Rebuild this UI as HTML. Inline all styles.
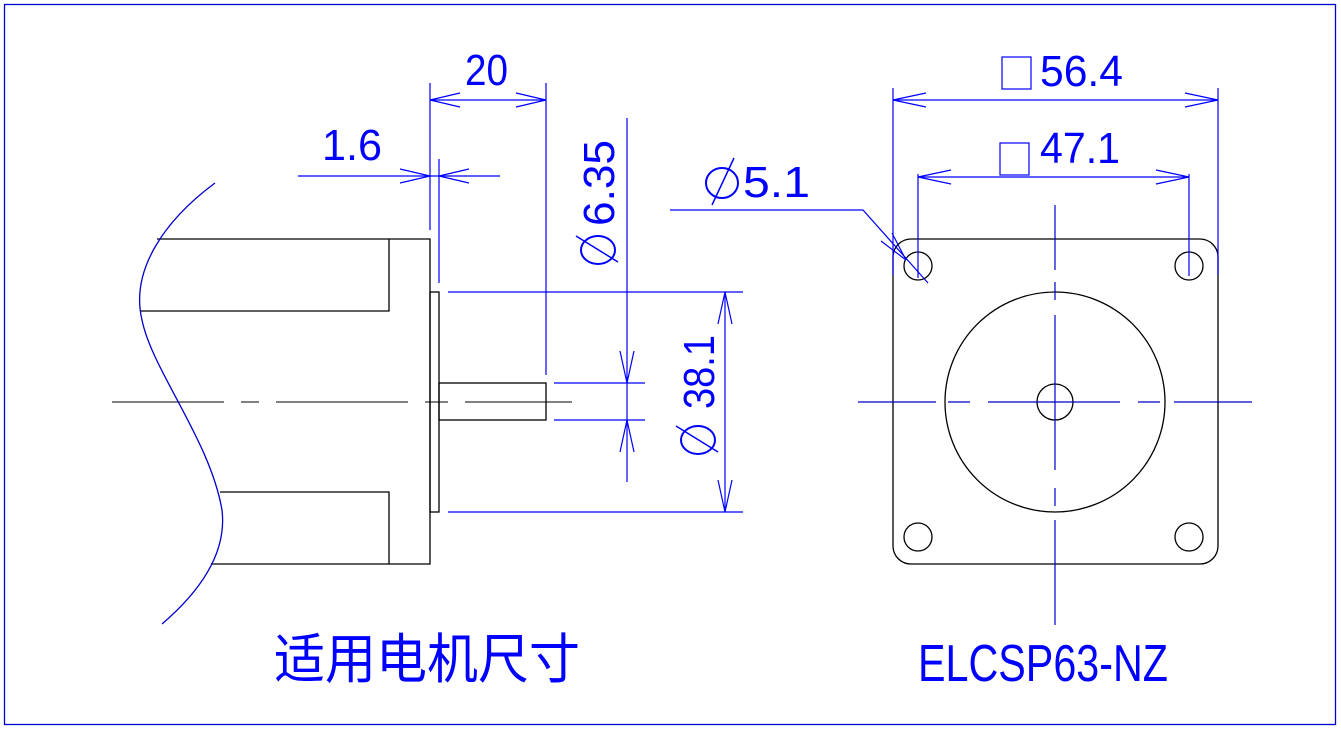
<!DOCTYPE html>
<html><head><meta charset="utf-8"><style>
html,body{margin:0;padding:0;background:#fff;}
svg{display:block;}
text{fill:#0000ff;font-family:"Liberation Sans","Noto Sans CJK SC",sans-serif;}
</style></head><body>
<svg width="1341" height="730" viewBox="0 0 1341 730" xmlns="http://www.w3.org/2000/svg">
<rect x="4.5" y="4.5" width="1331" height="720" fill="none" stroke="#0000cc" stroke-width="1.3"/>

<!-- left view black -->
<g stroke="#000" stroke-width="1.3" fill="none">
<path d="M157,239 H430 V564 H211"/>
<path d="M141,311 H389 V239"/>
<path d="M220,492 H389 V564"/>
<rect x="430" y="292" width="9" height="220"/>
<rect x="439" y="383" width="107" height="37"/>
<path d="M112,402 H224 M241,402 H259 M276,402 H408 M425,402 H448 M465,402 H572" stroke-width="1.1"/>
</g>
<path d="M215,183 C165,220 130,270 142,320 C152,370 210,440 222,510 C228,560 190,600 162,624" fill="none" stroke="#0000cc" stroke-width="1.3"/>

<!-- left dims -->
<g stroke="#0000ff" stroke-width="1.2" fill="none">
<path d="M430,83 V230 M546,83 V375 M430,100 H546"/>
<path d="M430,100 l30,-7 M430,100 l30,7 M546,100 l-30,-7 M546,100 l-30,7"/>
<path d="M298,176 H500 M439,159 V283"/>
<path d="M430,176 l-30,-7 M430,176 l-30,7 M439,176 l30,-7 M439,176 l30,7"/>
<path d="M627,118 V482 M554,383 H645 M554,420 H645"/>
<path d="M627,383 l-7,-32 M627,383 l7,-32 M627,420 l-7,32 M627,420 l7,32"/>
<path d="M448,292 H743 M448,512 H743 M725,292 V512"/>
<path d="M725,292 l-7,32 M725,292 l7,32 M725,512 l-7,-32 M725,512 l7,-32"/>
</g>
<text x="465" y="85" font-size="44" textLength="43" lengthAdjust="spacingAndGlyphs">20</text>
<text x="322" y="160" font-size="44" textLength="60" lengthAdjust="spacingAndGlyphs">1.6</text>
<g transform="translate(614,0) rotate(-90)">
<ellipse cx="-250" cy="-16" rx="14" ry="17" fill="none" stroke="#0000ff" stroke-width="2"/>
<line x1="-262" y1="4" x2="-236" y2="-38" stroke="#0000ff" stroke-width="1.5"/>
<text x="-226" y="0" font-size="44" textLength="86" lengthAdjust="spacingAndGlyphs">6.35</text>
</g>
<g transform="translate(714,0) rotate(-90)">
<ellipse cx="-440" cy="-16" rx="14" ry="17" fill="none" stroke="#0000ff" stroke-width="2"/>
<line x1="-452" y1="4" x2="-426" y2="-38" stroke="#0000ff" stroke-width="1.5"/>
<text x="-409" y="0" font-size="44" textLength="74" lengthAdjust="spacingAndGlyphs">38.1</text>
</g>

<!-- right view -->
<g stroke="#000" stroke-width="1.3" fill="none">
<rect x="893" y="239" width="325" height="325" rx="18"/>
<circle cx="918" cy="266" r="14"/><circle cx="1189" cy="266" r="14"/>
<circle cx="918" cy="537" r="14"/><circle cx="1189" cy="537" r="14"/>
<circle cx="1055" cy="402" r="110"/><circle cx="1055" cy="402" r="18"/>
</g>
<g stroke="#0000cc" stroke-width="1.2" fill="none">
<path d="M858,402 H936 M948,402 H970 M988,402 H1120 M1138,402 H1160 M1174,402 H1252"/>
<path d="M1055,205 V270 M1055,282 V300 M1055,315 V470 M1055,488 V506 M1055,520 V625"/>
</g>
<g stroke="#0000ff" stroke-width="1.2" fill="none">
<path d="M893,88 V275 M1218,88 V275 M893,100 H1218"/>
<path d="M893,100 l33,-7 M893,100 l33,7 M1218,100 l-33,-7 M1218,100 l-33,7"/>
<path d="M918,174 V278 M1189,174 V276 M918,177 H1189"/>
<path d="M918,177 l33,-7 M918,177 l33,7 M1189,177 l-33,-7 M1189,177 l-33,7"/>
<path d="M670,210 H863 L928,283"/>
<path d="M906,260 l-14,-27 M906,260 l-25,-19"/>
<rect x="1002" y="57" width="29" height="32"/>
<rect x="1000" y="143" width="29" height="32"/>
<ellipse cx="722" cy="183" rx="16" ry="15" stroke-width="2"/>
<line x1="712" y1="205" x2="734" y2="158" stroke-width="1.5"/>
</g>
<text x="1040" y="86" font-size="44" textLength="83" lengthAdjust="spacingAndGlyphs">56.4</text>
<text x="1040" y="163" font-size="44" textLength="80" lengthAdjust="spacingAndGlyphs">47.1</text>
<text x="743" y="197" font-size="44" textLength="67" lengthAdjust="spacingAndGlyphs">5.1</text>

<text x="274" y="678" font-size="54" textLength="306" lengthAdjust="spacingAndGlyphs">适用电机尺寸</text>
<text x="918" y="681" font-size="52" textLength="250" lengthAdjust="spacingAndGlyphs">ELCSP63-NZ</text>
</svg>
</body></html>
